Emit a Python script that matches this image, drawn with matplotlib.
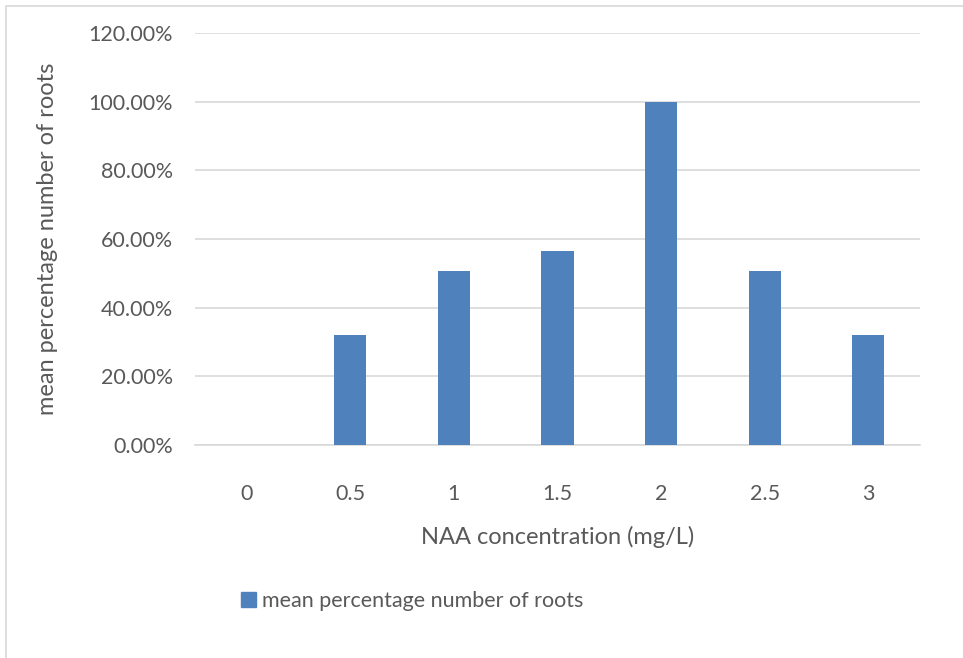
import matplotlib.pyplot as plt
from matplotlib.patches import Rectangle, Patch
from matplotlib.ticker import PercentFormatter

plt.rcParams['font.family'] = ['Lato', 'DejaVu Sans']

concentrations = ['0', '0.5', '1', '1.5', '2', '2.5', '3']
mean_roots = [0.0, 0.321, 0.507, 0.566, 1.0, 0.507, 0.321]
series_name = 'mean percentage number of roots'

txt = '#595959'
bar_col = '#4F81BD'
grid_col = '#D9D9D9'

fig = plt.figure(figsize=(9.63, 6.58), dpi=100)
W, H = 963, 658
# outer chart border (cut off at right and bottom)
fig.patches.append(Rectangle((6 / W, -0.1), 1.2, (H - 6) / H + 0.1, transform=fig.transFigure,
                             fill=False, edgecolor='#D9D9D9', linewidth=1.2))

ax = fig.add_axes([195 / W, (H - 445) / H, 725 / W, (445 - 33) / H])
x = range(len(concentrations))
ax.bar(x, mean_roots, width=0.31, color=bar_col, zorder=3)
ax.set_xlim(-0.5, len(concentrations) - 0.5)
ax.set_ylim(0, 1.2)
ax.set_yticks([i * 0.2 for i in range(7)])
ax.yaxis.set_major_formatter(PercentFormatter(1.0, decimals=2))
ax.set_xticks(list(x))
ax.set_xticklabels(concentrations)
ax.grid(axis='y', color=grid_col, linewidth=1.2, zorder=0)
for s in ['top', 'right', 'left']:
    ax.spines[s].set_visible(False)
ax.spines['bottom'].set_color(grid_col)
ax.spines['bottom'].set_linewidth(1.2)
ax.tick_params(length=0, labelsize=15.5, colors=txt)
ax.tick_params(axis='x', pad=28)
ax.tick_params(axis='y', pad=16)

ax.set_xlabel('NAA concentration (mg/L)', fontsize=17, color=txt, labelpad=16)
ax.set_ylabel('mean percentage number of roots', fontsize=17, color=txt, labelpad=22)

fig.legend(handles=[Patch(color=bar_col, label=series_name)], loc='center left',
           bbox_to_anchor=(222 / W, (H - 601) / H), frameon=False, fontsize=15.5,
           handlelength=0.7, handleheight=0.7, handletextpad=0.25, labelcolor=txt)

fig.savefig('out.png', dpi=100)
